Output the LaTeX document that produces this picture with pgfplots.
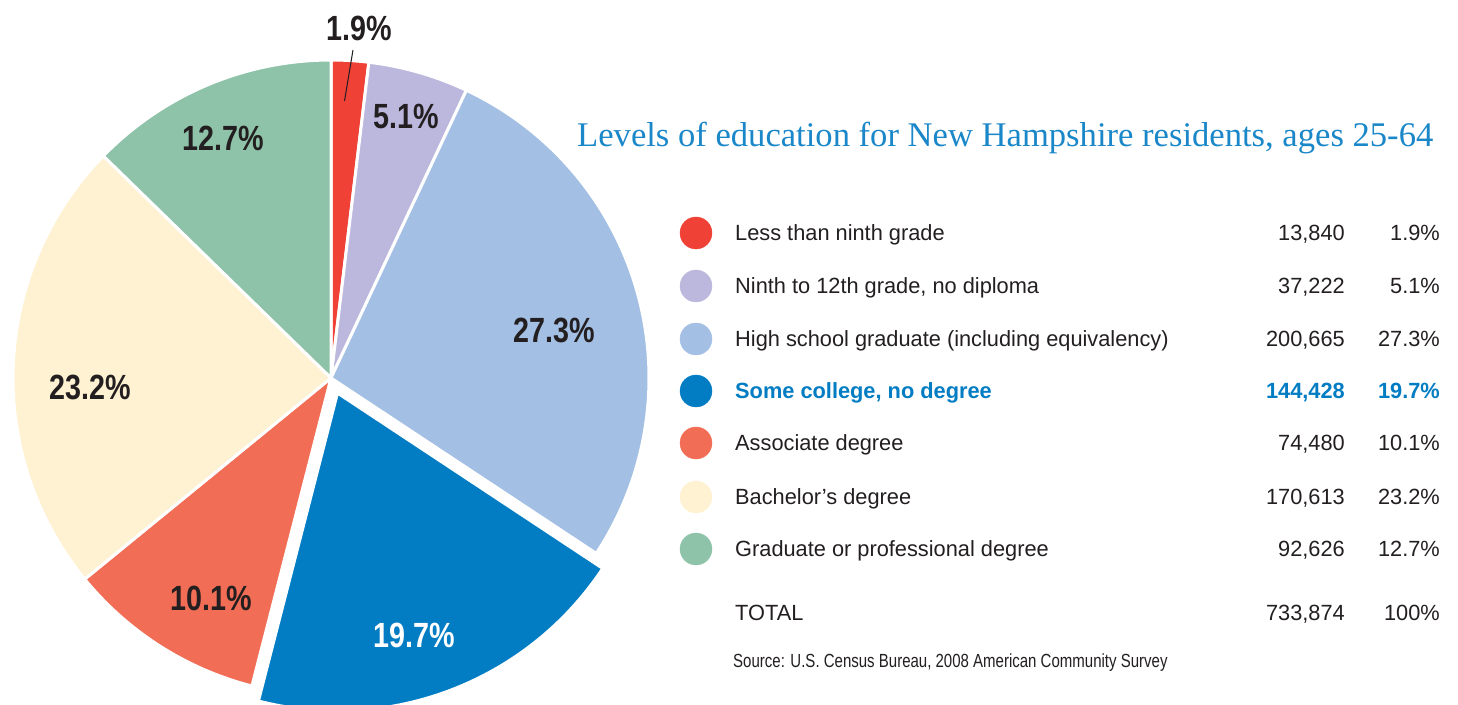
\documentclass[border=0pt]{standalone}
\usepackage{pgfplots}
\pgfplotsset{compat=1.18}
\usepackage{pgfplotstable}
\usepackage{fontspec}
\setmainfont{Liberation Sans}[FakeStretch=0.99]
\newfontfamily\labfont{Liberation Sans}[FakeStretch=0.82]
\newfontfamily\srcfont{Liberation Sans}[FakeStretch=0.79]
\newfontfamily\titlefont{Liberation Serif}
\definecolor{cRed}{HTML}{EF4136}
\definecolor{cPurple}{HTML}{BCB8DD}
\definecolor{cLBlue}{HTML}{A3BFE4}
\definecolor{cBlue}{HTML}{027DC3}
\definecolor{cOrange}{HTML}{F26D55}
\definecolor{cCream}{HTML}{FFF2D2}
\definecolor{cGreen}{HTML}{8EC3AA}
\definecolor{cText}{HTML}{231F20}
\definecolor{cTitle}{HTML}{1A87C9}
% category, count, percent; wedge angles = 90 - 3.6*cumulative percent
\pgfplotstableread{
cat count pct
1 13840 1.9
2 37222 5.1
3 200665 27.3
4 144428 19.7
5 74480 10.1
6 170613 23.2
7 92626 12.7
}\edudata
\begin{document}
\begin{tikzpicture}
\path (0,0) rectangle (1458pt,704pt);
\begin{axis}[
  at={(0,0)}, anchor=south west,
  scale only axis, width=1458pt, height=704pt,
  xmin=0, xmax=1458, ymin=0, ymax=704,
  axis lines=none, clip=true,
  every axis plot/.append style={line join=round},
]
% pie wedges (centre 331,326; radius 318)
\addplot[fill=cRed, draw=white, line width=3pt, domain=83.16:90, samples=20] ({331+318*cos(x)},{326+318*sin(x)}) -- (331,326) -- cycle;
\addplot[fill=cPurple, draw=white, line width=3pt, domain=64.8:83.16, samples=40] ({331+318*cos(x)},{326+318*sin(x)}) -- (331,326) -- cycle;
\addplot[fill=cLBlue, draw=white, line width=3pt, domain=-33.48:64.8, samples=120] ({331+318*cos(x)},{326+318*sin(x)}) -- (331,326) -- cycle;
\addplot[fill=cOrange, draw=white, line width=3pt, domain=-140.76:-104.4, samples=50] ({331+318*cos(x)},{326+318*sin(x)}) -- (331,326) -- cycle;
\addplot[fill=cCream, draw=white, line width=3pt, domain=-224.28:-140.76, samples=100] ({331+318*cos(x)},{326+318*sin(x)}) -- (331,326) -- cycle;
\addplot[fill=cGreen, draw=white, line width=3pt, domain=-270:-224.28, samples=60] ({331+318*cos(x)},{326+318*sin(x)}) -- (331,326) -- cycle;
% exploded wedge
\addplot[fill=cBlue, draw=white, line width=3pt, domain=-104.4:-33.48, samples=90] ({337.5+318*cos(x)},{311+318*sin(x)}) -- (337.5,311) -- cycle;
% leader line for 1.9%
\addplot[cText, line width=1pt] coordinates {(353,654) (344.5,603)};
% pie labels
\tikzset{plab/.style={font=\labfont\bfseries\fontsize{35}{35}\selectfont, text=cText, inner sep=0pt}}
\node[plab] at (axis cs:359,676) {1.9\%};
\node[plab] at (axis cs:406,587) {5.1\%};
\node[plab] at (axis cs:554,374) {27.3\%};
\node[plab, text=white] at (axis cs:414,69) {19.7\%};
\node[plab] at (axis cs:211,106) {10.1\%};
\node[plab] at (axis cs:90,317) {23.2\%};
\node[plab] at (axis cs:223,566) {12.7\%};
% title
\node[anchor=base west, font=\titlefont\fontsize{34.6}{34.6}\selectfont, text=cTitle, inner sep=0pt] at (axis cs:577,557) {Levels of education for New Hampshire residents, ages 25-64};
% legend markers
\addplot[only marks, mark=*, mark size=16pt, cRed, mark options={draw=none}] coordinates {(696,471)};
\addplot[only marks, mark=*, mark size=16pt, cPurple, mark options={draw=none}] coordinates {(696,418)};
\addplot[only marks, mark=*, mark size=16pt, cLBlue, mark options={draw=none}] coordinates {(696,365)};
\addplot[only marks, mark=*, mark size=16pt, cBlue, mark options={draw=none}] coordinates {(696,313)};
\addplot[only marks, mark=*, mark size=16pt, cOrange, mark options={draw=none}] coordinates {(696,261)};
\addplot[only marks, mark=*, mark size=16pt, cCream, mark options={draw=none}] coordinates {(696,207)};
\addplot[only marks, mark=*, mark size=16pt, cGreen, mark options={draw=none}] coordinates {(696,155)};
% legend texts
\tikzset{ltxt/.style={font=\fontsize{22}{22}\selectfont, text=cText, inner sep=0pt},
         lbl/.style={ltxt, anchor=base west}, num/.style={ltxt, anchor=base east}}
\node[lbl] at (axis cs:735,463) {Less than ninth grade};
\node[num] at (axis cs:1345,463) {13,840};
\node[num] at (axis cs:1440,463) {1.9\%};
\node[lbl] at (axis cs:735,410) {Ninth to 12th grade, no diploma};
\node[num] at (axis cs:1345,410) {37,222};
\node[num] at (axis cs:1440,410) {5.1\%};
\node[lbl] at (axis cs:735,357) {High school graduate (including equivalency)};
\node[num] at (axis cs:1345,357) {200,665};
\node[num] at (axis cs:1440,357) {27.3\%};
\node[lbl, text=cBlue, font=\bfseries\fontsize{22}{22}\selectfont] at (axis cs:735,305) {Some college, no degree};
\node[num, text=cBlue, font=\bfseries\fontsize{22}{22}\selectfont] at (axis cs:1345,305) {144,428};
\node[num, text=cBlue, font=\bfseries\fontsize{22}{22}\selectfont] at (axis cs:1440,305) {19.7\%};
\node[lbl] at (axis cs:735,253) {Associate degree};
\node[num] at (axis cs:1345,253) {74,480};
\node[num] at (axis cs:1440,253) {10.1\%};
\node[lbl] at (axis cs:735,199) {Bachelor’s degree};
\node[num] at (axis cs:1345,199) {170,613};
\node[num] at (axis cs:1440,199) {23.2\%};
\node[lbl] at (axis cs:735,147) {Graduate or professional degree};
\node[num] at (axis cs:1345,147) {92,626};
\node[num] at (axis cs:1440,147) {12.7\%};
\node[lbl] at (axis cs:735,83) {TOTAL};
\node[num] at (axis cs:1345,83) {733,874};
\node[num] at (axis cs:1440,83) {100\%};
\node[lbl, font=\srcfont\fontsize{19}{19}\selectfont] at (axis cs:733,36) {Source: U.S. Census Bureau, 2008 American Community Survey};
\end{axis}
\end{tikzpicture}
\end{document}
